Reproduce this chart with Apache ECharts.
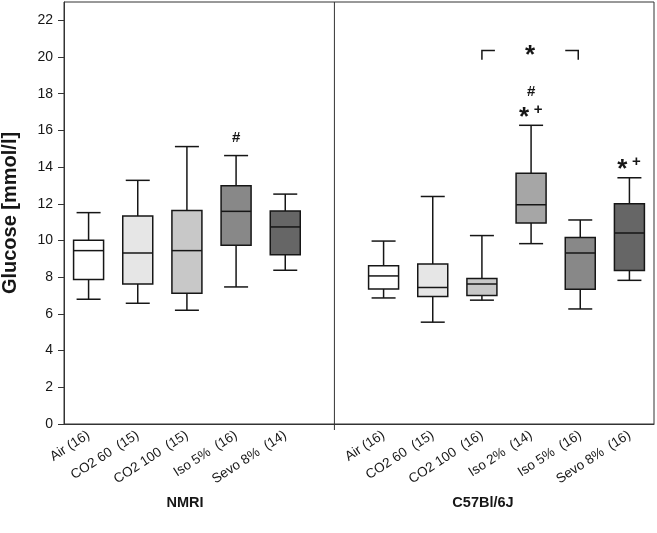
<!DOCTYPE html>
<html><head><meta charset="utf-8">
<script src="https://cdn.jsdelivr.net/npm/echarts@6/dist/echarts.min.js"></script>
<style>html,body{margin:0;padding:0;background:#fff}#c{width:657px;height:533px}</style>
</head><body><div id="c"></div>
<script>
// ---- data ----
const categories = ['Air (16)', 'CO2 60  (15)', 'CO2 100  (15)', 'Iso 5%  (16)', 'Sevo 8%  (14)', '',
  'Air (16)', 'CO2 60  (15)', 'CO2 100  (16)', 'Iso 2%  (14)', 'Iso 5%  (16)', 'Sevo 8%  (16)'];
// [low whisker, Q1, median, Q3, high whisker]
const nmriStats = [
  [6.80, 7.87, 9.45, 10.01, 11.52],
  [6.58, 7.63, 9.32, 11.33, 13.28],
  [6.20, 7.13, 9.45, 11.64, 15.12],
  [7.47, 9.74, 11.59, 12.99, 14.63],
  [8.38, 9.23, 10.74, 11.61, 12.53]
];
const c57Stats = [
  [6.87, 7.36, 8.07, 8.63, 9.97],
  [5.55, 6.95, 7.44, 8.72, 12.40],
  [6.75, 7.00, 7.63, 7.93, 10.27],
  [9.83, 10.95, 11.95, 13.66, 16.28],
  [6.27, 7.34, 9.32, 10.16, 11.12],
  [7.83, 8.36, 10.41, 12.01, 13.42]
];
const nmriFills = ['#ffffff', '#e6e6e6', '#c8c8c8', '#888888', '#666666'];
const c57Fills = ['#ffffff', '#e6e6e6', '#c8c8c8', '#a6a6a6', '#888888', '#666666'];
const yTicks = [0, 2, 4, 6, 8, 10, 12, 14, 16, 18, 20, 22];
const yMax = 23;
const groupLabels = ['NMRI', 'C57Bl/6J'];
const dividerIndex = 5;
// annotations: [category index, y value, kind]
const annotations = [[3, 15.6, '#'], [9, 18.1, '#'], [9, 17.0, '*+'], [11, 14.2, '*+']];
// bracket: [from category, to category, top y, bottom y]
const bracket = [8, 10, 20.35, 19.85];

// ---- build ----
const boxData = [];
const boxFills = [];
nmriStats.forEach((s, i) => { boxData.push([i].concat(s)); boxFills.push(nmriFills[i]); });
c57Stats.forEach((s, i) => { boxData.push([i + dividerIndex + 1].concat(s)); boxFills.push(c57Fills[i]); });

const INK = '#161616';
const FONT = 'Liberation Sans';

function renderBox(params, api) {
  const x = api.value(0);
  const lo = api.coord([x, api.value(1)]);
  const q1 = api.coord([x, api.value(2)]);
  const md = api.coord([x, api.value(3)]);
  const q3 = api.coord([x, api.value(4)]);
  const hi = api.coord([x, api.value(5)]);
  const cx = lo[0], hw = 15, cw = 12;
  const st = { stroke: INK, lineWidth: 1.5 };
  return { type: 'group', children: [
    { type: 'line', shape: { x1: cx, y1: hi[1], x2: cx, y2: q3[1] }, style: st },
    { type: 'line', shape: { x1: cx - cw, y1: hi[1], x2: cx + cw, y2: hi[1] }, style: st },
    { type: 'line', shape: { x1: cx, y1: q1[1], x2: cx, y2: lo[1] }, style: st },
    { type: 'line', shape: { x1: cx - cw, y1: lo[1], x2: cx + cw, y2: lo[1] }, style: st },
    { type: 'rect', shape: { x: cx - hw, y: q3[1], width: 2 * hw, height: q1[1] - q3[1] },
      style: { fill: boxFills[params.dataIndex], stroke: INK, lineWidth: 1.5 } },
    { type: 'line', shape: { x1: cx - hw, y1: md[1], x2: cx + hw, y2: md[1] }, style: st }
  ]};
}

function renderDivider(params, api) {
  const a = api.coord([api.value(0), 0]);
  const b = api.coord([api.value(0), yMax]);
  return { type: 'line', shape: { x1: a[0], y1: a[1] + 6, x2: b[0], y2: b[1] },
    style: { stroke: '#333', lineWidth: 1 } };
}

function renderAnno(params, api) {
  const p = api.coord([api.value(0), api.value(1)]);
  const kind = annotations[params.dataIndex][2];
  if (kind === '#') {
    return { type: 'text', x: p[0], y: p[1], style: { text: '#', font: 'bold 15px ' + FONT,
      fill: INK, textAlign: 'center', textVerticalAlign: 'middle' } };
  }
  return { type: 'group', children: [
    { type: 'text', x: p[0] - 7, y: p[1] + 6, style: { text: '*', font: 'bold 26px ' + FONT,
      fill: INK, textAlign: 'center', textVerticalAlign: 'middle' } },
    { type: 'text', x: p[0] + 7, y: p[1] - 2, style: { text: '+', font: 'bold 15px ' + FONT,
      fill: INK, textAlign: 'center', textVerticalAlign: 'middle' } }
  ]};
}

function renderBracket(params, api) {
  const l = api.coord([bracket[0], bracket[2]]);
  const lb = api.coord([bracket[0], bracket[3]]);
  const r = api.coord([bracket[1], bracket[2]]);
  const rb = api.coord([bracket[1], bracket[3]]);
  const rx = r[0] - 2;
  const mid = (l[0] + rx) / 2;
  const st = { stroke: INK, lineWidth: 1.5, fill: null };
  return { type: 'group', children: [
    { type: 'polyline', shape: { points: [[l[0], lb[1]], [l[0], l[1]], [l[0] + 13, l[1]]] }, style: st },
    { type: 'polyline', shape: { points: [[rx - 13, r[1]], [rx, r[1]], [rx, rb[1]]] }, style: st },
    { type: 'text', x: mid, y: l[1] + 5, style: { text: '*', font: 'bold 26px ' + FONT,
      fill: INK, textAlign: 'center', textVerticalAlign: 'middle' } }
  ]};
}

const chart = echarts.init(document.getElementById('c'), null, { renderer: 'canvas' });
chart.setOption({
  animation: false,
  backgroundColor: '#fff',
  textStyle: { fontFamily: FONT },
  grid: { left: 64, right: 3, top: 2, bottom: 109, show: true, borderColor: '#333', borderWidth: 1,
    containLabel: false, outerBoundsMode: 'none' },
  xAxis: {
    type: 'category', data: categories, boundaryGap: true,
    axisLine: { lineStyle: { color: '#333', width: 1 } },
    axisTick: { alignWithLabel: true, interval: 0, length: 5, lineStyle: { color: '#333' } },
    axisLabel: { interval: 0, rotate: 33, fontSize: 13.5, color: INK, margin: 10, fontFamily: FONT },
    splitLine: { show: false }
  },
  yAxis: {
    type: 'value', min: 0, max: yMax,
    name: 'Glucose [mmol/l]', nameLocation: 'middle', nameGap: 44,
    nameTextStyle: { fontSize: 20, fontWeight: 'bold', color: INK, fontFamily: FONT },
    axisLine: { show: true, lineStyle: { color: '#333', width: 1 } },
    axisTick: { show: true, length: 6, customValues: yTicks, lineStyle: { color: '#333' } },
    axisLabel: { customValues: yTicks, fontSize: 14, color: INK, margin: 11, fontFamily: FONT },
    splitLine: { show: false }
  },
  graphic: [
    { type: 'text', x: 185, y: 503, style: { text: groupLabels[0], font: 'bold 14.5px ' + FONT, fill: INK, textAlign: 'center', textVerticalAlign: 'middle' } },
    { type: 'text', x: 483, y: 503, style: { text: groupLabels[1], font: 'bold 14.5px ' + FONT, fill: INK, textAlign: 'center', textVerticalAlign: 'middle' } }
  ],
  series: [
    { type: 'custom', renderItem: renderDivider, data: [[dividerIndex]], clip: false, z: 1 },
    { type: 'custom', renderItem: renderBox, data: boxData, encode: { x: 0, y: [1, 2, 3, 4, 5] }, z: 2 },
    { type: 'custom', renderItem: renderAnno, data: annotations.map(a => [a[0], a[1]]), encode: { x: 0, y: 1 }, z: 3 },
    { type: 'custom', renderItem: renderBracket, data: [[bracket[0], bracket[2]]], encode: { x: 0, y: 1 }, z: 3 }
  ]
});
</script></body></html>
